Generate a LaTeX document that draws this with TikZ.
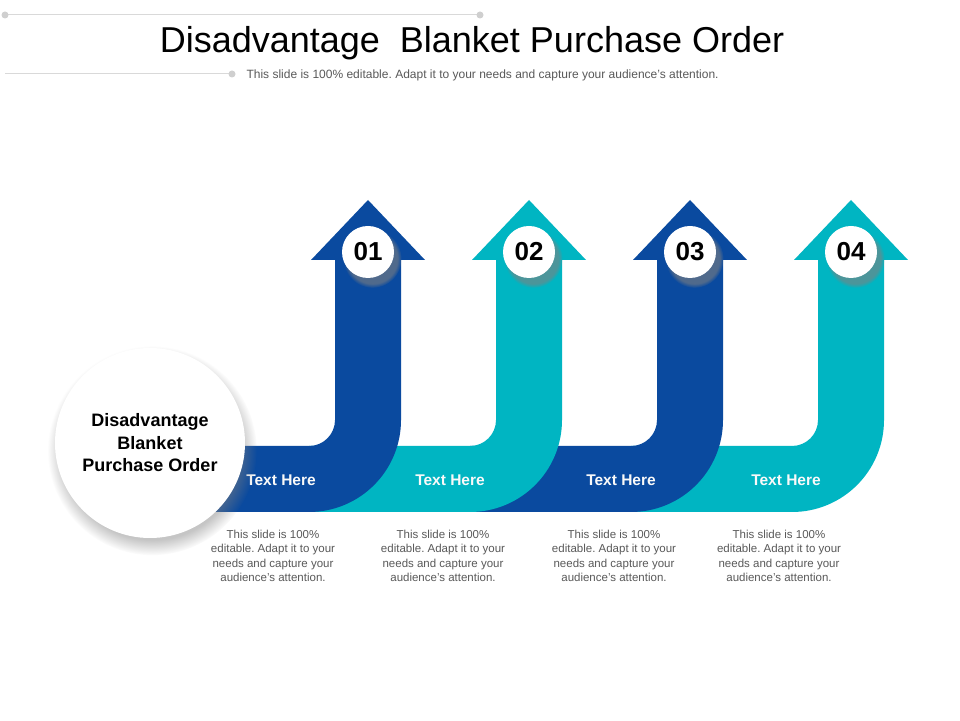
\documentclass[tikz,border=0pt]{standalone}
\usepackage{fontspec}
\setmainfont{Liberation Sans}
\usetikzlibrary{shadows}
\definecolor{arrowblue}{HTML}{0A4A9F}
\definecolor{arrowteal}{HTML}{00B5C2}
\definecolor{rulegray}{HTML}{D9D9D9}
\definecolor{dotgray}{HTML}{CFCFCF}
\definecolor{textgray}{HTML}{595959}
\frenchspacing
\tikzset{
  numdisc/.style={circle,fill=white,minimum size=52pt,inner sep=0pt,
    font=\fontsize{26}{26}\selectfont\bfseries,
    circular drop shadow={shadow xshift=4pt,shadow yshift=-6pt,shadow scale=1.12,opacity=.6}},
  steplabel/.style={text=white!95!gray,font=\fontsize{15.5}{15.5}\selectfont\bfseries},
  stepdesc/.style={text=textgray,align=center,font=\fontsize{11.5}{14.5}\selectfont},
  ruledot/.style={circle,fill=dotgray,inner sep=0pt,minimum size=7pt}
}
\begin{document}
\begin{tikzpicture}[x=1pt,y=1pt]
\useasboundingbox[fill=white] (0,0) rectangle (960,720);
% header rules
\coordinate (topL) at (5,705);
\coordinate (topR) at (480,705);
\coordinate (subL) at (5,646);
\coordinate (subR) at (232,646);
\draw[rulegray,line width=1pt] (topL) -- (topR);
\draw[rulegray,line width=1pt] (subL) -- (subR);
\node[ruledot] at (topL) {};
\node[ruledot] at (topR) {};
\node[ruledot] at (subR) {};
\node (title) at (472,677) {\fontsize{36}{36}\selectfont Disadvantage\ \ Blanket\ Purchase\ Order};
\node[anchor=west,text=textgray,font=\fontsize{12}{12}\selectfont] (subtitle) at (243,645)
  {This slide is 100\% editable. Adapt it to your needs and capture your audience’s attention.};
% arrows, right to left so each one covers the next band
\foreach \c/\col/\L in {851/arrowteal/631, 690/arrowblue/470, 529/arrowteal/309, 368/arrowblue/215}{
  \fill[\col] (\L,208) -- (\L,274) -- ({\c-59},274)
    arc[start angle=-90,end angle=0,radius=26] -- ({\c-33},460)
    -- ({\c-57},460) -- (\c,520) -- ({\c+57},460) -- ({\c+33},460) -- ({\c+33},300)
    arc[start angle=0,end angle=-90,radius=92] -- cycle;
}
% number discs
\node[numdisc] (num1) at (368,468) {01};
\node[numdisc] (num2) at (529,468) {02};
\node[numdisc] (num3) at (690,468) {03};
\node[numdisc] (num4) at (851,468) {04};
% labels
\node[steplabel] (lbl1) at (281,240) {Text Here};
\node[steplabel] (lbl2) at (450,240) {Text Here};
\node[steplabel] (lbl3) at (621,240) {Text Here};
\node[steplabel] (lbl4) at (786,240) {Text Here};
\node[stepdesc] (desc1) at (273,164) {This slide is 100\%\\editable. Adapt it to your\\needs and capture your\\audience's attention.};
\node[stepdesc] (desc2) at (443,164) {This slide is 100\%\\editable. Adapt it to your\\needs and capture your\\audience's attention.};
\node[stepdesc] (desc3) at (614,164) {This slide is 100\%\\editable. Adapt it to your\\needs and capture your\\audience's attention.};
\node[stepdesc] (desc4) at (779,164) {This slide is 100\%\\editable. Adapt it to your\\needs and capture your\\audience's attention.};
% hub
\node[circle,fill=white,minimum size=190pt,inner sep=0pt,align=center,
  font=\fontsize{18}{22.5}\selectfont\bfseries,
  circular drop shadow={shadow xshift=2pt,shadow yshift=-7pt,shadow scale=1.1,opacity=.45}]
  (hub) at (150,277) {Disadvantage\\Blanket\\Purchase Order};
\end{tikzpicture}
\end{document}
